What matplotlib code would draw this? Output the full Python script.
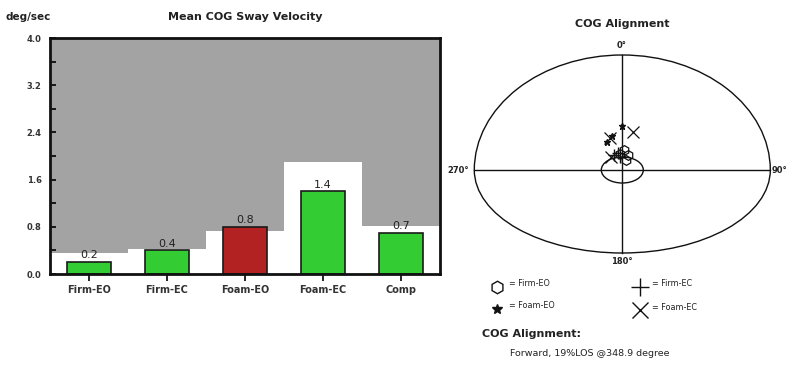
import matplotlib
matplotlib.use("Agg")
import matplotlib.pyplot as plt
from matplotlib.patches import Ellipse, Arc
import numpy as np

# ---------------- data ----------------
categories = ["Firm-EO", "Firm-EC", "Foam-EO", "Foam-EC", "Comp"]
sway_values = [0.2, 0.4, 0.8, 1.4, 0.7]
normal_limits = [0.36, 0.42, 0.73, 1.89, 0.82]
bar_colors = ["#33CC33", "#33CC33", "#B22222", "#33CC33", "#33CC33"]
y_ticks = [0.0, 0.8, 1.6, 2.4, 3.2, 4.0]
y_tick_labels = ["0.0", "0.8", "1.6", "2.4", "3.2", "4.0"]

# COG alignment points (units: fraction of ellipse half-width; x right, y forward)
firm_eo_x = [0.013, 0.040, 0.027, -0.013]
firm_eo_y = [0.135, 0.100, 0.068, 0.108]
firm_ec_x = [-0.054, -0.027, -0.015]
firm_ec_y = [0.100, 0.115, 0.088]
foam_eo_x = [0.000, -0.105, -0.070]
foam_eo_y = [0.300, 0.190, 0.230]
foam_ec_x = [0.074, -0.080, -0.074]
foam_ec_y = [0.257, 0.215, 0.090]

W, H = 787, 367
fig = plt.figure(figsize=(W / 100, H / 100), dpi=100)
fig.patch.set_facecolor("white")

# ---------------- left: bar chart ----------------
L, R, T, B = 50, 440, 38, 274
ax = fig.add_axes([L / W, 1 - B / H, (R - L) / W, (B - T) / H])
ax.set_facecolor("#A3A3A3")
x = np.arange(len(categories))
ax.bar(x, normal_limits, width=1.0, color="white", edgecolor="none", zorder=1)
ax.bar(x, sway_values, width=0.56, color=bar_colors, edgecolor="#1a1a1a",
       linewidth=1.2, zorder=2)
for xi, v in zip(x, sway_values):
    ax.text(xi, v + 0.03, f"{v:.1f}", ha="center", va="bottom", fontsize=8,
            color="#222222", zorder=3)
ax.set_xlim(-0.5, len(categories) - 0.5)
ax.set_ylim(0, 4.0)
ax.set_yticks(y_ticks)
ax.set_yticklabels(y_tick_labels, fontsize=6, fontweight="bold", color="#333333")
ax.set_yticks(np.arange(0.4, 4.0, 0.8), minor=True)
ax.tick_params(axis="y", which="both", direction="in", length=4, width=1.2, pad=6)
ax.set_xticks(x)
ax.set_xticklabels(categories, fontsize=7, fontweight="bold", color="#333333")
ax.tick_params(axis="x", direction="out", length=5, width=1.2, pad=3)
for s in ax.spines.values():
    s.set_linewidth(2)
    s.set_color("#111111")

fig.text(5 / W, 1 - 17 / H, "deg/sec", fontsize=7.5, fontweight="bold",
         color="#222222", ha="left", va="center")
fig.text(245 / W, 1 - 17 / H, "Mean COG Sway Velocity", fontsize=8,
         fontweight="bold", color="#222222", ha="center", va="center")

# ---------------- right: COG alignment ----------------
CX, CY, S = 622.3, 170.0, 148.0
ax2 = fig.add_axes([460 / W, 0, (W - 460) / W, 1])
ax2.set_xlim((460 - CX) / S, (W - CX) / S)
ax2.set_ylim((CY - H) / S, CY / S)
ax2.axis("off")


def P(px, py):
    return (px - CX) / S, (CY - py) / S


up_h = (CY - 55) / S
lo_h = (253 - CY) / S
ax2.add_patch(Arc((0, 0), 2.0, 2 * up_h, theta1=0, theta2=180, color="#111111", lw=1.0))
ax2.add_patch(Arc((0, 0), 2.0, 2 * lo_h, theta1=180, theta2=360, color="#111111", lw=1.0))
ax2.plot([-1, 1], [0, 0], color="#111111", lw=1.0)
ax2.plot([0, 0], [-lo_h, up_h], color="#111111", lw=1.0)
ax2.add_patch(Ellipse((0, 0), 2 * 21 / S, 2 * 13 / S, fill=False, color="#111111", lw=1.0))

ax2.text(*P(622, 45), "0°", fontsize=6, fontweight="bold", ha="center", va="center", color="#222222")
ax2.text(*P(622, 262), "180°", fontsize=6, fontweight="bold", ha="center", va="center", color="#222222")
ax2.text(*P(458, 170), "270°", fontsize=6, fontweight="bold", ha="center", va="center", color="#222222")
ax2.text(*P(779, 170), "90°", fontsize=6, fontweight="bold", ha="center", va="center", color="#222222")

ax2.plot(firm_eo_x, firm_eo_y, ls="none", marker="h", ms=7, mfc="none", mec="#111111", mew=0.9)
ax2.plot(firm_ec_x, firm_ec_y, ls="none", marker="+", ms=8, mec="#111111", mew=1.0)
ax2.plot(foam_eo_x, foam_eo_y, ls="none", marker="*", ms=5, mfc="#111111", mec="#111111")
ax2.plot(foam_ec_x, foam_ec_y, ls="none", marker="x", ms=9, mec="#111111", mew=0.9)

fig.text(622 / W, 1 - 24 / H, "COG Alignment", fontsize=8, fontweight="bold",
         color="#222222", ha="center", va="center")

# legend
leg = [("h", 496.7, 287, "= Firm-EO", dict(ms=9, mfc="none", mew=1.0)),
       ("+", 640, 287, "= Firm-EC", dict(ms=13, mew=1.0)),
       ("*", 496.7, 309, "= Foam-EO", dict(ms=7)),
       ("x", 640, 310, "= Foam-EC", dict(ms=12, mew=1.0))]
for m, lx, ly, lab, kw in leg:
    ax2.plot(*P(lx, ly), marker=m, color="#111111", mec="#111111", **kw)
    ax2.text(*P(lx + 12, ly - 3), lab, fontsize=5.8, color="#222222", ha="left", va="center")

ax2.text(*P(482, 334), "COG Alignment:", fontsize=8, fontweight="bold", color="#222222",
         ha="left", va="center")
ax2.text(*P(510, 354), "Forward, 19%LOS @348.9 degree", fontsize=6.8, color="#222222",
         ha="left", va="center")

fig.savefig("out.png", dpi=100, facecolor="white")
